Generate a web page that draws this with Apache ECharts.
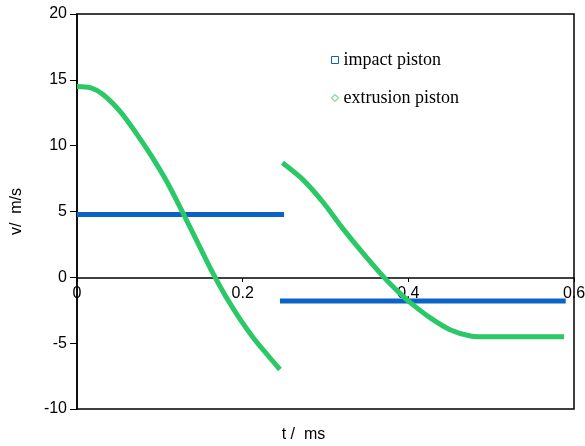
<!DOCTYPE html>
<html><head><meta charset="utf-8">
<script src="https://cdn.jsdelivr.net/npm/echarts@6/dist/echarts.min.js"></script>
<style>html,body{margin:0;padding:0;background:#fff}#c{width:585px;height:446px}</style>
</head><body><div id="c"></div>
<script>
var xTicks = [0, 0.2, 0.4, 0.6];
var yTicks = [-10, -5, 0, 5, 10, 15, 20];
var impactSeg1 = [[0, 4.78], [0.25, 4.78]];
var impactSeg2 = [[0.245, -1.8], [0.59, -1.8]];
var extrusionSeg1 = [[0, 14.5], [0.016, 14.4], [0.031, 13.9], [0.052, 12.6], [0.072, 10.9], [0.09, 9.2], [0.109, 7.2], [0.127, 5.0], [0.146, 2.6], [0.165, 0.2], [0.18, -1.5], [0.197, -3.2], [0.213, -4.6], [0.23, -5.9], [0.245, -7.0]];
var extrusionSeg2 = [[0.248, 8.7], [0.273, 7.4], [0.297, 5.7], [0.321, 3.7], [0.347, 1.7], [0.372, -0.1], [0.388, -1.1], [0.402, -1.9], [0.427, -3.1], [0.451, -4.0], [0.475, -4.45], [0.5, -4.52], [0.55, -4.52], [0.588, -4.52]];

var blue = '#0a64c8', green = '#2ac866';
var chart = echarts.init(document.getElementById('c'));
var lbl = {fontFamily: 'Liberation Sans, Arial, sans-serif', fontSize: 16, color: '#000'};
chart.setOption({
  animation: false,
  grid: {left: 77, right: 11, top: 14, bottom: 37, show: true, borderColor: '#000', borderWidth: 1.5, containLabel: false, outerBoundsMode: 'none'},
  legend: {
    orient: 'vertical', left: 326, top: 46, itemGap: 20, itemWidth: 7, itemHeight: 7,
    textStyle: {fontFamily: 'Liberation Serif, Times New Roman, serif', fontSize: 18, color: '#000'},
    data: [
      {name: 'impact piston', icon: 'rect', itemStyle: {color: '#fff', borderColor: blue, borderWidth: 1}},
      {name: 'extrusion piston', icon: 'diamond', itemStyle: {color: '#fff', borderColor: green, borderWidth: 1}}
    ]
  },
  xAxis: {
    type: 'value', min: xTicks[0], max: xTicks[xTicks.length - 1], interval: 0.2,
    position: 'bottom', offset: -131,
    axisLine: {onZero: false, lineStyle: {color: '#000', width: 1.5}},
    axisTick: {show: true, length: 4, lineStyle: {color: '#000'}},
    splitLine: {show: false},
    axisLabel: Object.assign({margin: 8, showMaxLabel: true, formatter: function (v) { return String(Math.round(v * 10) / 10); }}, lbl),
    name: 't /  ms', nameLocation: 'middle', nameGap: 149,
    nameTextStyle: Object.assign({padding: [0, 44, 0, 0]}, lbl)
  },
  yAxis: {
    type: 'value', min: yTicks[0], max: yTicks[yTicks.length - 1], interval: 5,
    axisLine: {onZero: false, lineStyle: {color: '#000', width: 1.5}},
    axisTick: {show: true, length: 7, lineStyle: {color: '#000'}},
    splitLine: {show: false},
    axisLabel: Object.assign({margin: 10}, lbl),
    name: 'v/  m/s', nameLocation: 'middle', nameGap: 52, nameRotate: 90,
    nameTextStyle: lbl
  },
  series: [
    {name: 'impact piston', type: 'line', data: impactSeg1, showSymbol: false, lineStyle: {color: blue, width: 5}, itemStyle: {color: blue}, z: 3},
    {name: 'impact piston', type: 'line', data: impactSeg2, showSymbol: false, lineStyle: {color: blue, width: 5}, itemStyle: {color: blue}, z: 3},
    {name: 'extrusion piston', type: 'line', data: extrusionSeg1, smooth: 0.3, showSymbol: false, lineStyle: {color: green, width: 5}, itemStyle: {color: green}, z: 4},
    {name: 'extrusion piston', type: 'line', data: extrusionSeg2, smooth: 0.3, showSymbol: false, lineStyle: {color: green, width: 5}, itemStyle: {color: green}, z: 4}
  ]
});
</script></body></html>
